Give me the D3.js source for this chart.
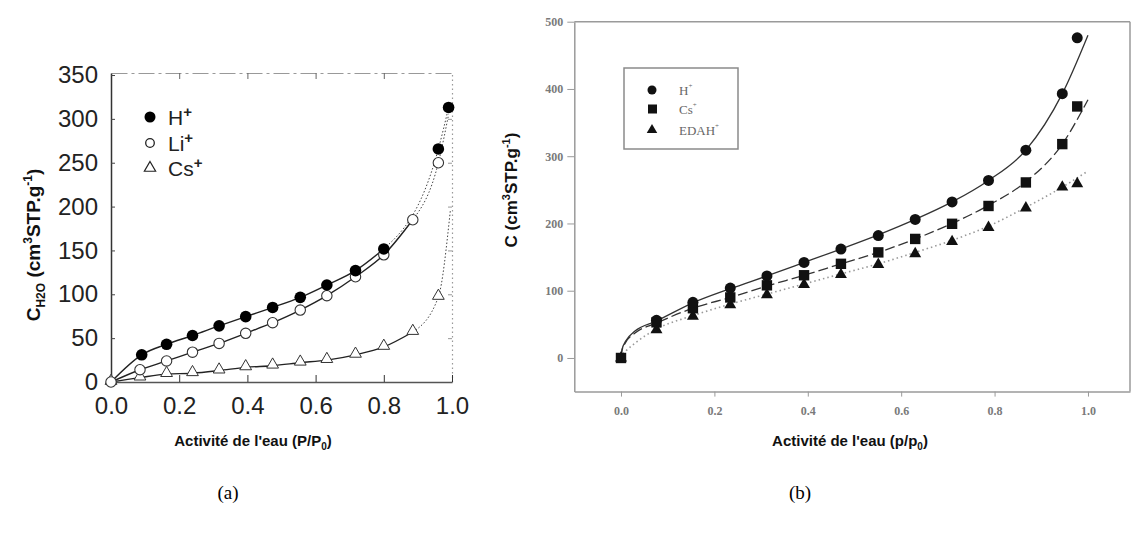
<!DOCTYPE html>
<html><head><meta charset="utf-8">
<script src="https://cdn.jsdelivr.net/npm/d3@7"></script>
<style>body{margin:0;background:#fff}svg{display:block}</style>
</head><body>
<svg id="c" width="1131" height="544"></svg>
<script>
// ---------- Panel (a) data ----------
const aHx  = [0, 0.09, 0.163, 0.239, 0.317, 0.395, 0.474, 0.555, 0.633, 0.717, 0.80, 0.96, 0.99];
const aHy  = [0, 31, 43, 53, 64, 74.5, 85, 96.5, 110.6, 127, 151.7, 265.7, 313];
const aLix = [0, 0.085, 0.163, 0.239, 0.317, 0.395, 0.474, 0.555, 0.633, 0.717, 0.80, 0.885, 0.96];
const aLiy = [0, 14, 24, 34, 44, 55.5, 67.6, 82, 98.4, 120, 145, 185, 250];
const aCsx = [0, 0.085, 0.163, 0.239, 0.317, 0.395, 0.474, 0.555, 0.633, 0.717, 0.80, 0.885, 0.96];
const aCsy = [0, 5, 9, 10, 13, 16.7, 18.6, 22, 25, 31, 40, 57, 97];
// dotted fitted tails
const aLiTailX = [0.885, 0.96, 0.99];
const aLiTailY = [185, 250, 305];
const aCsTailX = [0.885, 0.96, 0.995];
const aCsTailY = [57, 97, 195];
const aYTicks = [0, 50, 100, 150, 200, 250, 300, 350];
const aXTicks = [0, 0.2, 0.4, 0.6, 0.8, 1.0];

// ---------- Panel (b) data ----------
const bX    = [0, 0.076, 0.154, 0.234, 0.3125, 0.392, 0.471, 0.551, 0.63, 0.709, 0.787, 0.867, 0.945, 0.977];
const bH    = [0, 56, 82.7, 104, 122, 142, 162, 182, 206, 232, 264, 309, 393, 476];
const bCs   = [0, 53, 74, 90, 108, 123, 140, 157, 177, 199.5, 226, 261, 318, 374];
const bEDAH = [0, 42, 62, 79, 94, 109, 124, 139, 155, 173, 194, 223, 254, 259];
// fitted curves
const bFitX     = [0, 0.002, 0.01, 0.03, 0.076, 0.154, 0.234, 0.3125, 0.392, 0.471, 0.551, 0.63, 0.709, 0.787, 0.867, 0.945, 1.0];
const bFitH     = [0, 12, 25, 40, 55, 82, 103, 122, 142, 162, 183, 206, 232, 264, 309, 393, 480];
const bFitCs    = [0, 11, 23, 37, 52, 74, 90, 107, 123, 140, 157, 177, 200, 227, 262, 318, 384];
const bFitEDAH  = [0, 4, 10, 22, 43, 63, 80, 95, 110, 125, 140, 157, 175, 196, 224, 254, 278];
const bYTicks = [0, 100, 200, 300, 400, 500];
const bXTicks = [0, 0.2, 0.4, 0.6, 0.8, 1.0];

const svg = d3.select("#c");

function rich(sel, parts) {
  parts.forEach(p => {
    const t = sel.append("tspan").text(p.t);
    if (p.sup) t.attr("font-size", p.fs).attr("dy", p.dy);
    if (p.sub) t.attr("font-size", p.fs).attr("dy", p.dy);
    if (p.back) t.attr("dy", p.back);
    if (p.fw) t.attr("font-weight", p.fw);
  });
}

// =============== Panel (a) =================
const xA = d3.scaleLinear().domain([0, 1]).range([111, 452]);
const yA = d3.scaleLinear().domain([0, 352.3]).range([382, 73]);
const gA = svg.append("g");
const sansA = "'Liberation Sans', Arial, sans-serif";

// top & right frame (dashed, faint)
gA.append("g").attr("transform", `translate(0,${yA(352.3)})`)
  .call(d3.axisTop(xA).tickValues([0.2,0.4,0.6,0.8]).tickSize(-6).tickFormat("").tickSizeOuter(0))
  .call(g => g.select(".domain").attr("stroke", "#999").attr("stroke-dasharray", "16,4,3,4").attr("stroke-width", 1))
  .call(g => g.selectAll(".tick line").attr("stroke", "#666"));
gA.append("g").attr("transform", `translate(${xA(1)},0)`)
  .call(d3.axisRight(yA).tickValues([50,100,150,200,250,300]).tickSize(-4).tickFormat("").tickSizeOuter(0))
  .call(g => g.select(".domain").attr("stroke", "#999").attr("stroke-dasharray", "1.5,3").attr("stroke-width", 1.2))
  .call(g => g.selectAll(".tick line").attr("stroke", "#999"));

gA.append("g").attr("transform", `translate(${xA(0)},0)`)
  .call(d3.axisLeft(yA).tickValues(aYTicks).tickSize(-4).tickPadding(13).tickSizeOuter(0).tickFormat(d3.format("d")))
  .call(g => g.select(".domain").attr("stroke", "#333").attr("stroke-width", 1.5))
  .call(g => g.selectAll(".tick line").attr("stroke", "#444"))
  .call(g => g.selectAll("text").attr("font-family", sansA).attr("font-size", 24).attr("fill", "#222"));
gA.append("g").attr("transform", `translate(0,${yA(0)})`)
  .call(d3.axisBottom(xA).tickValues(aXTicks).tickSize(-7).tickPadding(15).tickSizeOuter(0).tickFormat(d3.format(".1f")))
  .call(g => g.select(".domain").attr("stroke", "#555").attr("stroke-width", 1.5))
  .call(g => g.selectAll(".tick line").attr("stroke", "#333"))
  .call(g => g.selectAll("text").attr("font-family", sansA).attr("font-size", 24).attr("fill", "#222"));

const lineA = d3.line().x(d => xA(d[0])).y(d => yA(d[1])).curve(d3.curveMonotoneX);
const zip = (xs, ys) => xs.map((x, i) => [x, ys[i]]);
const hPts = zip(aHx, aHy), liPts = zip(aLix, aLiy), csPts = zip(aCsx, aCsy);

gA.append("path").attr("d", lineA(hPts.slice(0, 11))).attr("fill", "none").attr("stroke", "#222").attr("stroke-width", 1.4);
gA.append("path").attr("d", lineA(hPts.slice(10))).attr("fill", "none").attr("stroke", "#444").attr("stroke-width", 1).attr("stroke-dasharray", "1.5,2");
gA.append("path").attr("d", lineA(liPts.slice(0, 12))).attr("fill", "none").attr("stroke", "#222").attr("stroke-width", 1.4);
gA.append("path").attr("d", lineA(zip(aLiTailX, aLiTailY))).attr("fill", "none").attr("stroke", "#444").attr("stroke-width", 1).attr("stroke-dasharray", "1.5,2");
gA.append("path").attr("d", lineA(csPts.slice(0, 12))).attr("fill", "none").attr("stroke", "#222").attr("stroke-width", 1.4);
gA.append("path").attr("d", lineA(zip(aCsTailX, aCsTailY))).attr("fill", "none").attr("stroke", "#444").attr("stroke-width", 1).attr("stroke-dasharray", "1.5,2");

const triA = d3.symbol().type(d3.symbolTriangle).size(60);
gA.selectAll(".cs").data(csPts).join("path").attr("d", triA)
  .attr("transform", d => `translate(${xA(d[0])},${yA(d[1]) - 1})`)
  .attr("fill", "#fff").attr("stroke", "#333").attr("stroke-width", 1);
gA.selectAll(".li").data(liPts).join("circle")
  .attr("cx", d => xA(d[0])).attr("cy", d => yA(d[1])).attr("r", 5.2)
  .attr("fill", "#fff").attr("stroke", "#333").attr("stroke-width", 1.1);
gA.selectAll(".h").data(hPts.slice(1)).join("circle")
  .attr("cx", d => xA(d[0])).attr("cy", d => yA(d[1])).attr("r", 5.8)
  .attr("fill", "#000");

// legend (a)
const legA = [{lab: "H", y: 117, sym: "fc"}, {lab: "Li", y: 143, sym: "oc"}, {lab: "Cs", y: 168, sym: "tri"}];
legA.forEach(l => {
  if (l.sym === "fc") gA.append("circle").attr("cx", 150).attr("cy", l.y).attr("r", 5.5).attr("fill", "#000");
  if (l.sym === "oc") gA.append("circle").attr("cx", 150).attr("cy", l.y).attr("r", 4.3).attr("fill", "#fff").attr("stroke", "#222").attr("stroke-width", 1.3);
  if (l.sym === "tri") gA.append("path").attr("d", d3.symbol().type(d3.symbolTriangle).size(55)()).attr("transform", `translate(150,${l.y})`).attr("fill", "#fff").attr("stroke", "#222").attr("stroke-width", 1.2);
  const t = gA.append("text").attr("x", 168).attr("y", l.y + 7.5).attr("font-family", sansA).attr("font-size", 21).attr("fill", "#222");
  rich(t, [{t: l.lab}, {t: "+", sup: true, fs: 15, dy: -8, fw: "bold"}]);
});

// axis titles (a)
const ytA = gA.append("text").attr("transform", "translate(40,245) rotate(-90)").attr("text-anchor", "middle")
  .attr("font-family", sansA).attr("font-weight", "bold").attr("font-size", 19).attr("fill", "#111");
rich(ytA, [{t: "C"}, {t: "H2O", sub: true, fs: 12, dy: 5}, {t: " (cm", back: -5}, {t: "3", sup: true, fs: 12, dy: -8}, {t: "STP.g", back: 8}, {t: "-1", sup: true, fs: 12, dy: -8}, {t: ")", back: 8}]);
const xtA = gA.append("text").attr("x", 253).attr("y", 446).attr("text-anchor", "middle")
  .attr("font-family", sansA).attr("font-weight", "bold").attr("font-size", 15).attr("fill", "#111");
rich(xtA, [{t: "Activité de l'eau (P/P"}, {t: "0", sub: true, fs: 10, dy: 4}, {t: ")", back: -4}]);

// =============== Panel (b) =================
const xB = d3.scaleLinear().domain([-0.1, 1.09]).range([574.3, 1130]);
const yB = d3.scaleLinear().domain([-50, 500]).range([391.6, 21.7]);
const gB = svg.append("g");
const serif = "'Liberation Serif', 'Times New Roman', serif";
const frameCol = "#9a9a9a";

gB.append("line").attr("x1", xB(-0.1)).attr("x2", xB(1.09)).attr("y1", yB(500)).attr("y2", yB(500)).attr("stroke", frameCol).attr("stroke-width", 1.5);
gB.append("line").attr("x1", xB(1.09)).attr("x2", xB(1.09)).attr("y1", yB(500)).attr("y2", yB(-50)).attr("stroke", frameCol).attr("stroke-width", 1.5);

gB.append("g").attr("transform", `translate(${xB(-0.1)},0)`)
  .call(d3.axisLeft(yB).tickValues(bYTicks).tickSize(7).tickPadding(4).tickSizeOuter(0).tickFormat(d3.format("d")))
  .call(g => g.select(".domain").attr("stroke", frameCol).attr("stroke-width", 1.5))
  .call(g => g.selectAll(".tick line").attr("stroke", frameCol))
  .call(g => g.selectAll("text").attr("font-family", serif).attr("font-size", 12).attr("font-weight", "bold").attr("fill", "#7a7a7a"));
gB.append("g").attr("transform", `translate(0,${yB(-50)})`)
  .call(d3.axisBottom(xB).tickValues(bXTicks).tickSize(5).tickPadding(10).tickSizeOuter(0).tickFormat(d3.format(".1f")))
  .call(g => g.select(".domain").attr("stroke", frameCol).attr("stroke-width", 1.5))
  .call(g => g.selectAll(".tick line").attr("stroke", frameCol))
  .call(g => g.selectAll("text").attr("font-family", serif).attr("font-size", 12).attr("font-weight", "bold").attr("fill", "#7a7a7a"));

const lineB = d3.line().x(d => xB(d[0])).y(d => yB(d[1])).curve(d3.curveMonotoneX);
gB.append("path").attr("d", lineB(zip(bFitX, bFitEDAH))).attr("fill", "none").attr("stroke", "#999").attr("stroke-width", 1.6).attr("stroke-dasharray", "1.5,3");
gB.append("path").attr("d", lineB(zip(bFitX, bFitCs))).attr("fill", "none").attr("stroke", "#333").attr("stroke-width", 1.3).attr("stroke-dasharray", "10,4");
gB.append("path").attr("d", lineB(zip(bFitX, bFitH))).attr("fill", "none").attr("stroke", "#333").attr("stroke-width", 1.3);

const triB = d3.symbol().type(d3.symbolTriangle).size(62);
gB.selectAll(".te").data(zip(bX, bEDAH)).join("path").attr("d", triB)
  .attr("transform", d => `translate(${xB(d[0])},${yB(d[1])})`).attr("fill", "#111");
gB.selectAll(".sq").data(zip(bX, bCs)).join("rect")
  .attr("x", d => xB(d[0]) - 5.2).attr("y", d => yB(d[1]) - 5.2).attr("width", 10.4).attr("height", 10.4).attr("fill", "#111");
gB.selectAll(".ci").data(zip(bX, bH).slice(1)).join("circle")
  .attr("cx", d => xB(d[0])).attr("cy", d => yB(d[1])).attr("r", 5.5).attr("fill", "#111");

// legend (b)
gB.append("rect").attr("x", 624).attr("y", 68).attr("width", 114).attr("height", 81).attr("fill", "none").attr("stroke", "#8a8a8a").attr("stroke-width", 1.5);
const legB = [{lab: "H", y: 90, sym: "c"}, {lab: "Cs", y: 109, sym: "s"}, {lab: "EDAH", y: 130, sym: "t"}];
legB.forEach(l => {
  if (l.sym === "c") gB.append("circle").attr("cx", 652).attr("cy", l.y).attr("r", 4.5).attr("fill", "#111");
  if (l.sym === "s") gB.append("rect").attr("x", 648).attr("y", l.y - 4.5).attr("width", 9).attr("height", 9).attr("fill", "#111");
  if (l.sym === "t") gB.append("path").attr("d", d3.symbol().type(d3.symbolTriangle).size(48)()).attr("transform", `translate(652,${l.y})`).attr("fill", "#111");
  const t = gB.append("text").attr("x", 679).attr("y", l.y + 5).attr("font-family", serif).attr("font-size", 13).attr("fill", "#666");
  rich(t, [{t: l.lab}, {t: "+", sup: true, fs: 7, dy: -7}]);
});

const ytB = gB.append("text").attr("transform", "translate(517,190) rotate(-90)").attr("text-anchor", "middle")
  .attr("font-family", sansA).attr("font-weight", "bold").attr("font-size", 17).attr("fill", "#111");
rich(ytB, [{t: "C (cm"}, {t: "3", sup: true, fs: 11, dy: -7}, {t: "STP.g", back: 7}, {t: "-1", sup: true, fs: 11, dy: -7}, {t: ")", back: 7}]);
const xtB = gB.append("text").attr("x", 850).attr("y", 446).attr("text-anchor", "middle")
  .attr("font-family", sansA).attr("font-weight", "bold").attr("font-size", 15).attr("fill", "#111");
rich(xtB, [{t: "Activité de l'eau (p/p"}, {t: "0", sub: true, fs: 10, dy: 4}, {t: ")", back: -4}]);

// captions
svg.append("text").attr("x", 228).attr("y", 499).attr("text-anchor", "middle").attr("font-family", serif).attr("font-size", 19).text("(a)");
svg.append("text").attr("x", 800).attr("y", 499).attr("text-anchor", "middle").attr("font-family", serif).attr("font-size", 19).text("(b)");
</script>
</body></html>
